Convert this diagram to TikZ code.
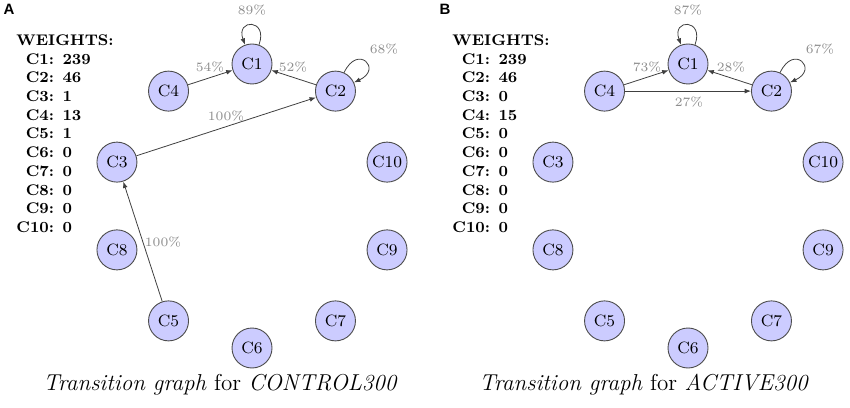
\documentclass[tikz,border=0pt]{standalone}
\usepackage{fontspec}
\newfontfamily\panelfont{Liberation Sans}
\usetikzlibrary{arrows.meta}
\tikzset{
  cnode/.style={circle, draw=black!70, line width=0.45pt, fill=blue!20, minimum size=20pt, inner sep=0pt,
    font=\fontsize{8.2}{10}\selectfont},
  edge/.style={draw=black!75, line width=0.4pt, -{Latex[length=3.2pt,width=2.4pt]}},
  lbl/.style={text=black!45, inner sep=0pt, font=\fontsize{6.4}{7.5}\selectfont},
  wts/.style={anchor=north west, inner sep=0pt, font=\fontsize{7.7}{9.35}\selectfont\bfseries},
  capt/.style={anchor=base west, inner sep=0pt, font=\fontsize{11.5}{13}\selectfont},
  panel/.style={inner sep=0pt, font=\fontsize{7.5}{9}\selectfont\panelfont\bfseries}
}
\begin{document}
\begin{tikzpicture}[x=0.5pt,y=0.5pt]
\useasboundingbox (0,0) rectangle (850,407);
% panel labels
\node[panel] (pA) at (9,398) {A};
\node[panel] (pB) at (445,398) {B};
% weights
\node[wts] (wA) at (16,375) {\begin{tabular}{@{}r@{ }l@{}}
\multicolumn{2}{@{}l@{}}{WEIGHTS:}\\
C1: & 239\\ C2: & 46\\ C3: & 1\\ C4: & 13\\ C5: & 1\\
C6: & 0\\ C7: & 0\\ C8: & 0\\ C9: & 0\\ C10: & 0
\end{tabular}};
\node[wts] (wB) at (452,375) {\begin{tabular}{@{}r@{ }l@{}}
\multicolumn{2}{@{}l@{}}{WEIGHTS:}\\
C1: & 239\\ C2: & 46\\ C3: & 0\\ C4: & 15\\ C5: & 0\\
C6: & 0\\ C7: & 0\\ C8: & 0\\ C9: & 0\\ C10: & 0
\end{tabular}};
% nodes
\foreach \n/\a in {1/90,2/54,10/18,9/-18,7/-54,6/-90,5/-126,8/-162,3/162,4/126}{
  \node[cnode] (A\n) at ([shift={(\a:142)}]252,201) {C\n};
  \node[cnode] (B\n) at ([shift={(\a:142)}]688,201) {C\n};
}
% panel A edges
\draw[edge] (A1.70) .. controls +(70:28) and +(110:28) .. (A1.110);
\draw[edge] (A2.65) .. controls +(65:32) and +(25:32) .. (A2.25);
\draw[edge] (A4) -- (A1);
\draw[edge] (A2) -- (A1);
\draw[edge] (A3) -- (A2);
\draw[edge] (A5) -- (A3);
\node[lbl] (lA11) at (252,397) {89\%};
\node[lbl] (lA22) at (384,358) {68\%};
\node[lbl] (lA41) at (210,340) {54\%};
\node[lbl] (lA21) at (293,340) {52\%};
\node[lbl] (lA32) at (226,291) {100\%};
\node[lbl] (lA53) at (163,165) {100\%};
% panel B edges
\draw[edge] (B1.70) .. controls +(70:28) and +(110:28) .. (B1.110);
\draw[edge] (B2.65) .. controls +(65:32) and +(25:32) .. (B2.25);
\draw[edge] (B4) -- (B1);
\draw[edge] (B2) -- (B1);
\draw[edge] (B4) -- (B2);
\node[lbl] (lB11) at (688,397) {87\%};
\node[lbl] (lB22) at (820,358) {67\%};
\node[lbl] (lB41) at (647,340) {73\%};
\node[lbl] (lB21) at (731,340) {28\%};
\node[lbl] (lB42) at (689,305) {27\%};
% captions
\node[capt] (cA) at (43,17) {\textit{Transition graph} for \textit{CONTROL300}};
\node[capt] (cB) at (479,17) {\textit{Transition graph} for \textit{ACTIVE300}};
\end{tikzpicture}
\end{document}
